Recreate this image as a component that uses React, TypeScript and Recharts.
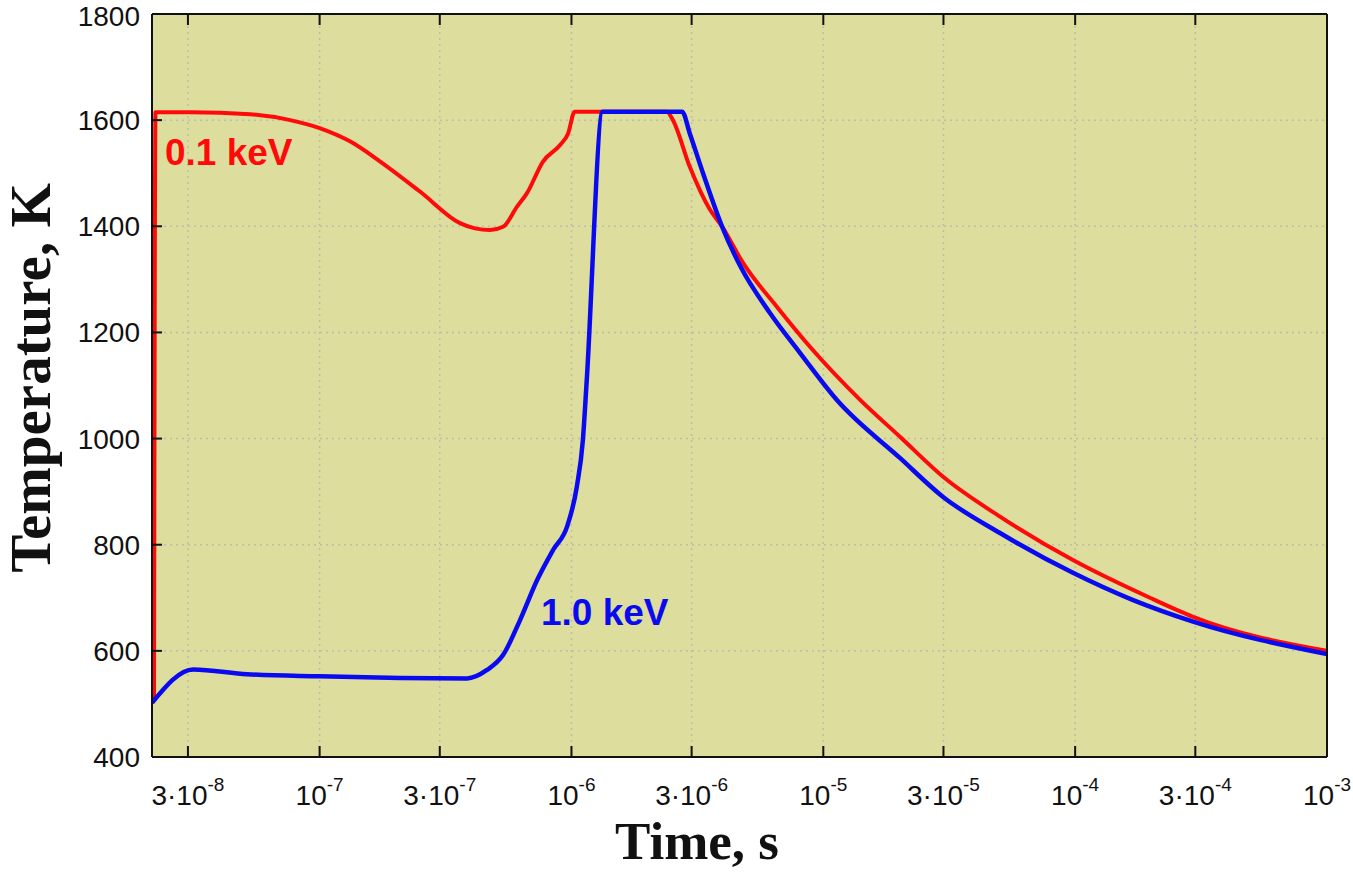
import React from 'react'
import { LineChart, Line, XAxis, YAxis, CartesianGrid } from 'recharts'

// 0.1 keV curve: [time s, temperature K]
const lowEnergyTime = [
  2.2e-8, 2.23e-8, 3.06e-8, 5.3e-8, 7.64e-8, 1.0e-7, 1.32e-7, 1.74e-7, 2.51e-7, 3.61e-7,
  4.14e-7, 4.75e-7, 5.35e-7, 6.08e-7, 6.65e-7, 7.71e-7, 9.01e-7, 9.7e-7, 1.03e-6, 2.39e-6,
  2.53e-6, 2.95e-6, 3.55e-6, 3.96e-6, 4.8e-6, 6.55e-6, 8.85e-6, 1.4e-5, 2.02e-5, 2.99e-5,
  5.03e-5, 9.8e-5, 1.98e-4, 2.94e-4, 1e-3,
]
const lowEnergyTemp = [
  505, 1615, 1615, 1611, 1600, 1585, 1560, 1522, 1465, 1406,
  1396, 1393, 1399, 1437, 1462, 1522, 1553, 1575, 1616, 1616,
  1600, 1512, 1431, 1400, 1331, 1248, 1173, 1073, 1003, 928,
  853, 771, 700, 664, 600,
]

// 1.0 keV curve
const highEnergyTime = [
  2.16e-8, 3.15e-8, 5.15e-8, 1.0e-7, 2.09e-7, 3.85e-7, 4.62e-7, 5.35e-7, 6.25e-7, 7.3e-7,
  8.45e-7, 9.62e-7, 1.05e-6, 1.11e-6, 1.15e-6, 1.33e-6, 2.75e-6, 2.95e-6, 3.33e-6, 3.96e-6,
  4.68e-6, 6.15e-6, 8.09e-6, 1.13e-5, 2.02e-5, 2.99e-5, 5.03e-5, 9.8e-5, 1.69e-4, 2.94e-4,
  1e-3,
]
const highEnergyTemp = [
  502, 565, 556, 552, 549, 548, 564, 592, 658, 733,
  790, 835, 909, 997, 1110, 1616, 1616, 1575, 1500, 1400,
  1325, 1236, 1161, 1073, 963, 890, 822, 747, 696, 655,
  594,
]

const timeTicks = [3e-8, 1e-7, 3e-7, 1e-6, 3e-6, 1e-5, 3e-5, 1e-4, 3e-4, 1e-3]
const tempTicks = [400, 600, 800, 1000, 1200, 1400, 1600, 1800]

const lowData = lowEnergyTime.map((t, i) => ({ t, temp: lowEnergyTemp[i] }))
const highData = highEnergyTime.map((t, i) => ({ t, temp: highEnergyTemp[i] }))

const W = 1353
const H = 872
const sans = '"Liberation Sans", Arial, sans-serif'
const serif = '"Liberation Serif", "Times New Roman", serif'

function TimeTick(props: any) {
  const { x, y, payload } = props
  const v = payload.value as number
  const exp = Math.floor(Math.log10(v) + 1e-9)
  const mant = Math.round(v / Math.pow(10, exp))
  return (
    <text x={x} y={y} textAnchor="middle" fontFamily={sans} fontSize={28} fill="#111">
      <tspan>{mant === 1 ? '10' : `${mant}·10`}</tspan>
      <tspan dy={-14} fontSize={19}>{exp}</tspan>
    </text>
  )
}

const noLabel = () => <g />

export default function App() {
  return (
    <div style={{ position: 'absolute', left: 0, top: 0, width: W, height: H, background: '#fff' }}>
      <LineChart width={W} height={H} margin={{ top: 13, right: 25, bottom: 55, left: 0 }}>
        <CartesianGrid
          xAxisId="b"
          yAxisId="l"
          fill="#dddd9d"
          stroke="#bdbdae"
          strokeDasharray="2 4"
          strokeWidth={1.5}
        />
        <XAxis
          xAxisId="b"
          dataKey="t"
          type="number"
          scale="log"
          domain={[2.16e-8, 1e-3]}
          ticks={timeTicks}
          allowDataOverflow
          height={60}
          axisLine={{ stroke: '#111', strokeWidth: 2 }}
          tickLine={{ stroke: '#111', strokeWidth: 2 }}
          tickSize={-11}
          tickMargin={59}
          tick={<TimeTick />}
        />
        <XAxis
          xAxisId="top"
          dataKey="t"
          type="number"
          scale="log"
          orientation="top"
          domain={[2.16e-8, 1e-3]}
          ticks={timeTicks}
          allowDataOverflow
          height={1}
          axisLine={{ stroke: '#111', strokeWidth: 2 }}
          tickLine={{ stroke: '#111', strokeWidth: 2 }}
          tickSize={-11}
          tickFormatter={() => ''}
          tick={{ fontSize: 1 }}
        />
        <YAxis
          yAxisId="l"
          type="number"
          domain={[400, 1800]}
          ticks={tempTicks}
          width={152}
          axisLine={{ stroke: '#111', strokeWidth: 2 }}
          tickLine={{ stroke: '#111', strokeWidth: 2 }}
          tickSize={-10}
          tickMargin={22}
          tick={{ fontFamily: sans, fontSize: 28, fill: '#111' }}
        />
        <YAxis
          yAxisId="r"
          orientation="right"
          type="number"
          domain={[400, 1800]}
          ticks={tempTicks}
          width={1}
          axisLine={{ stroke: '#111', strokeWidth: 2 }}
          tickLine={false}
          tick={noLabel}
        />
        <Line
          xAxisId="b"
          yAxisId="l"
          data={lowData}
          dataKey="temp"
          type="monotone"
          stroke="#ff0a0a"
          strokeWidth={4}
          dot={false}
          isAnimationActive={false}
        />
        <Line
          xAxisId="b"
          yAxisId="l"
          data={highData}
          dataKey="temp"
          type="monotone"
          stroke="#0a0af0"
          strokeWidth={4.5}
          dot={false}
          isAnimationActive={false}
        />
      </LineChart>
      <svg
        width={W}
        height={H}
        style={{ position: 'absolute', left: 0, top: 0, pointerEvents: 'none' }}
      >
        <text x={165} y={165} fontFamily={sans} fontWeight="bold" fontSize={37} fill="#ff0a0a">
          0.1 keV
        </text>
        <text x={541} y={625} fontFamily={sans} fontWeight="bold" fontSize={37} fill="#0a0af0">
          1.0 keV
        </text>
        <text x={697} y={859} textAnchor="middle" fontFamily={serif} fontWeight="bold" fontSize={53} fill="#111">
          Time, s
        </text>
        <text
          transform="translate(50 378) rotate(-90)"
          textAnchor="middle"
          fontFamily={serif}
          fontWeight="bold"
          fontSize={57}
          fill="#111"
        >
          Temperature, K
        </text>
      </svg>
    </div>
  )
}
